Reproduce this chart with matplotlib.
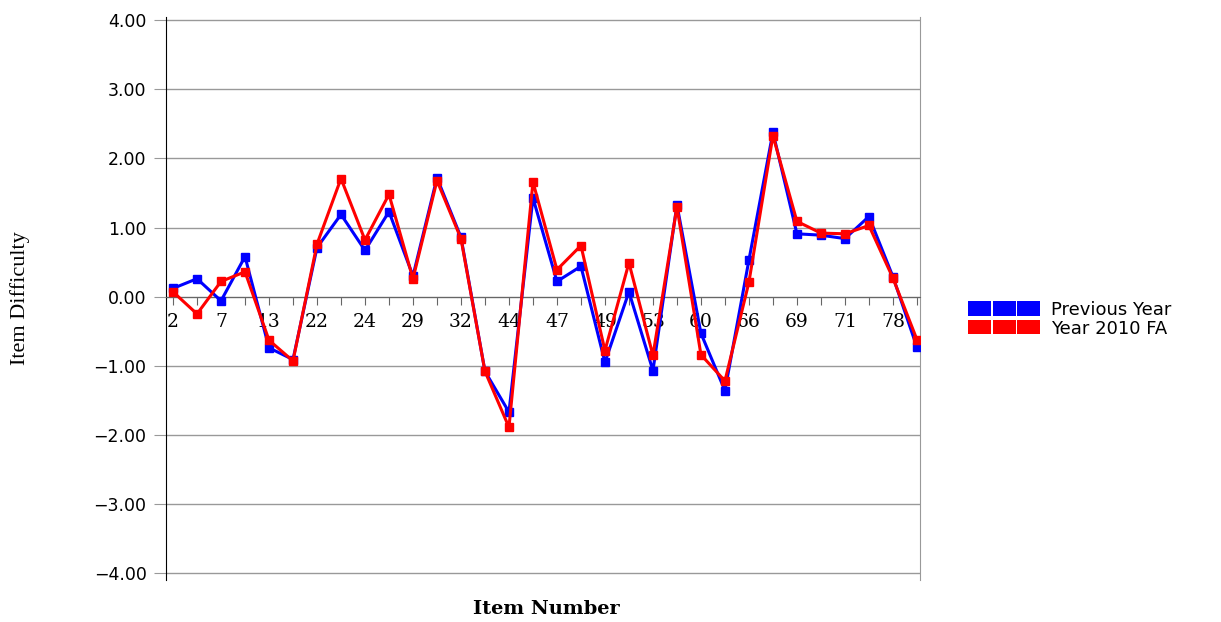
import matplotlib
matplotlib.use("Agg")
import matplotlib.pyplot as plt
from matplotlib.patches import Patch
from matplotlib.legend_handler import HandlerTuple

# item labels shown on the axis (every other item is labelled)
tick_labels = ["2", "7", "13", "22", "24", "29", "32", "44",
               "47", "49", "53", "60", "66", "69", "71", "78"]

previous_year = [0.12, 0.26, -0.06, 0.58, -0.74, -0.91, 0.71, 1.19,
                 0.67, 1.23, 0.30, 1.72, 0.86, -1.08, -1.67, 1.43,
                 0.22, 0.44, -0.95, 0.07, -1.07, 1.33, -0.53, -1.36,
                 0.53, 2.38, 0.91, 0.89, 0.84, 1.16, 0.29, -0.73]

year_2010 = [0.07, -0.25, 0.22, 0.36, -0.63, -0.93, 0.76, 1.71,
             0.82, 1.48, 0.26, 1.68, 0.84, -1.08, -1.89, 1.66,
             0.39, 0.74, -0.78, 0.49, -0.85, 1.30, -0.84, -1.22,
             0.21, 2.33, 1.09, 0.92, 0.91, 1.03, 0.27, -0.62]

x = list(range(len(previous_year)))
labels = []
for i in x:
    labels.append(tick_labels[i // 2] if i % 2 == 0 else "")

fig = plt.figure(figsize=(12.21, 6.22), dpi=100)
ax = fig.add_axes([0.136, 0.0675, 0.6175, 0.9055])

ax.plot(x, previous_year, color="#0000ff", lw=2.2, marker="s", ms=6,
        zorder=3)
ax.plot(x, year_2010, color="#ff0000", lw=2.2, marker="s", ms=6,
        zorder=4)

ax.spines["top"].set_visible(False)
ax.spines["left"].set_color("black")
ax.spines["right"].set_color("#999999")
ax.spines["bottom"].set_position(("data", 0))
ax.spines["bottom"].set_color("#666666")

ax.set_xlim(-0.29, 31.13)
ax.set_ylim(-4.1, 4.05)
ax.set_yticks([-4, -3, -2, -1, 0, 1, 2, 3, 4])
ax.set_yticklabels([("%.2f" % v).replace("-", "\u2212") for v in range(-4, 5)])
ax.set_xticks(x)
ax.set_xticklabels(labels, family="DejaVu Serif", fontsize=13.5)

ax.grid(axis="y", color="#999999", lw=1)
ax.set_axisbelow(True)

ax.tick_params(axis="y", length=9, color="#999999", labelsize=12.5, pad=5)
ax.tick_params(axis="x", length=6, color="#666666", pad=6)

ax.set_ylabel("Item Difficulty", family="Liberation Serif", fontsize=16)
ax.yaxis.set_label_coords(-0.18, 0.5)
ax.set_xlabel("Item Number", family="DejaVu Serif", fontweight="bold",
              fontsize=14)
ax.xaxis.set_label_coords(0.504, -0.035)

blue_sw = tuple(Patch(facecolor="#0000ff", edgecolor="none") for _ in range(3))
red_sw = tuple(Patch(facecolor="#ff0000", edgecolor="none") for _ in range(3))
fig.legend([blue_sw, red_sw], ["Previous Year", "Year 2010 FA"],
           handler_map={tuple: HandlerTuple(ndivide=None, pad=0.08)},
           loc="center left", bbox_to_anchor=(0.787, 0.487), frameon=False,
           fontsize=13, handlelength=4.0, handleheight=0.85,
           handletextpad=0.6, labelspacing=0.05, borderaxespad=0)

fig.savefig("out.png", dpi=100)
